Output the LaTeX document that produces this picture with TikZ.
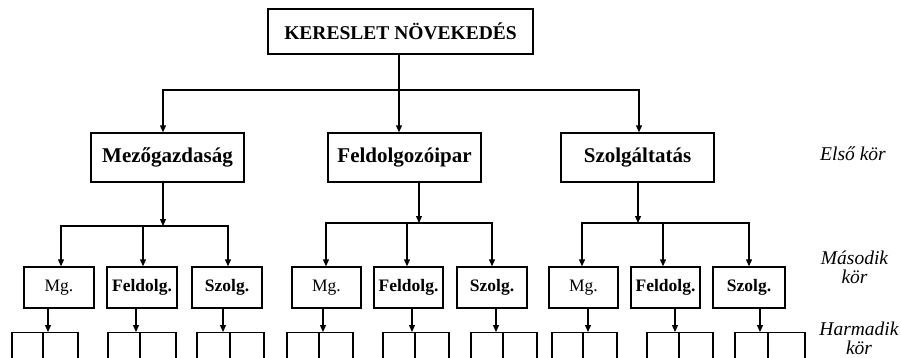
\documentclass[tikz,border=0pt]{standalone}
\usepackage{fontspec}
\setmainfont{Liberation Serif}
\usetikzlibrary{arrows.meta}
\begin{document}
\begin{tikzpicture}[x=1pt,y=-1pt,
  box/.style={draw,line width=1.4pt,inner sep=0pt},
  lone/.style={box,minimum width=153pt,minimum height=49pt,font=\fontsize{21}{22}\selectfont\bfseries},
  cell/.style={draw,line width=1.3pt,inner sep=0pt,minimum height=40pt,anchor=north},
  arr/.style={line width=1.2pt,-{Triangle[length=7pt,width=6pt]}},
  ln/.style={line width=1.2pt},
  lab/.style={font=\fontsize{19.5}{20}\selectfont\itshape,inner sep=0pt,anchor=base},
  lab2/.style={inner sep=0pt,anchor=north,align=center}]
\clip (0,0) rectangle (901,357);
% top
\node[box,minimum width=265pt,minimum height=45pt,font=\fontsize{19.5}{20}\selectfont\bfseries] (top) at (400.5,31.5) {KERESLET NÖVEKEDÉS};
% level 1
\node[lone] (mez) at (167.5,157.5) {Mezőgazdaság};
\node[lone] (fel) at (404.5,157.5) {Feldolgozóipar};
\node[lone] (szo) at (637.5,157.5) {Szolgáltatás};
\coordinate (t1) at (399,90);
\coordinate (xm) at (163,90);
\coordinate (xs) at (639,90);
\draw[arr] (top.south -| t1) -- (fel.north -| t1);
\draw[arr] (t1) -| (mez.north -| xm);
\draw[arr] (t1) -| (szo.north -| xs);
% junctions
\coordinate (j1) at (163,226);
\coordinate (j2) at (419,223);
\coordinate (j3) at (638,223);
\draw[arr] (mez.south -| j1) -- (j1);
\draw[arr] (fel.south -| j2) -- (j2);
\draw[arr] (szo.south -| j3) -- (j3);
% level 2 and 3
\foreach \n/\t/\f/\cx/\w/\bx/\ll/\rr/\dv/\ax/\j in {
g1a/Mg./\mdseries/59/70/61/12/78/43/48/j1,
g1b/Feldolg./\bfseries/142/70/143/108/176/140/136/j1,
g1c/Szolg./\bfseries/227/70/228/197/264/230/223/j1,
g2a/Mg./\mdseries/326.5/69/326/287/353/319/323/j2,
g2b/Feldolg./\bfseries/408.5/69/407/383/449/415/412/j2,
g2c/Szolg./\bfseries/492/70/492/471/537/503/496/j2,
g3a/Mg./\mdseries/583.5/69/582/552/617/583/588/j3,
g3b/Feldolg./\bfseries/665.5/69/663/647/713/679/675/j3,
g3c/Szolg./\bfseries/749/72/749/735/805/768/760/j3}{
  \node[box,minimum width=\w pt,minimum height=41pt,font=\fontsize{17.5}{18}\selectfont\f] (\n) at (\cx,287.5) {\t};
  \coordinate (\n-b) at (\bx,0);
  \draw[arr] (\j) -| (\n.north -| \n-b);
  \pgfmathsetmacro\cw{\rr-\ll}
  \pgfmathsetmacro\cc{(\ll+\rr)/2}
  \node[cell,minimum width=\cw pt] (\n-c) at (\cc,332) {};
  \coordinate (\n-d) at (\dv,0);
  \draw[ln] (\n-c.north -| \n-d) -- (\n-c.south -| \n-d);
  \coordinate (\n-a) at (\ax,0);
  \draw[arr] (\n.south -| \n-a) -- (\n-c.north -| \n-a);
}
% labels
\node[lab] (l1) at (853,160) {Első kör};
\node[lab2,font=\fontsize{19.5}{19}\selectfont\itshape] (l2) at (854.5,250.7) {Második\\kör};
\node[lab2,font=\fontsize{19.5}{18.8}\selectfont\itshape] (l3) at (859,321.5) {Harmadik\\kör};
\end{tikzpicture}
\end{document}
